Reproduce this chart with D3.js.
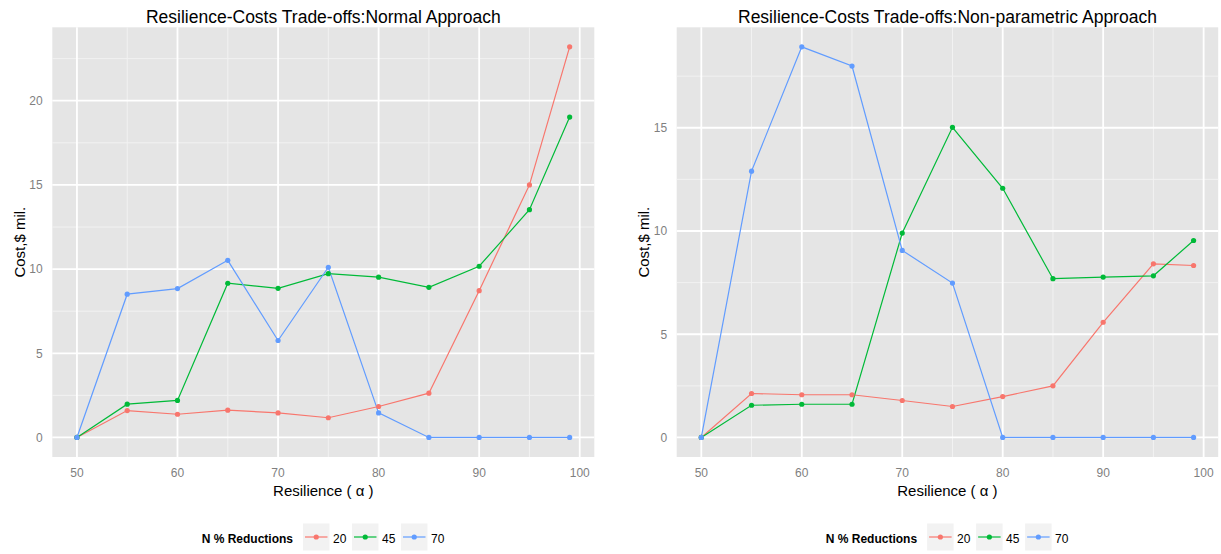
<!DOCTYPE html>
<html lang="en">
<head>
  <meta charset="UTF-8">
  <title>Resilience-Costs Trade-offs</title>
  <script src="https://d3js.org/d3.v7.min.js"></script>
  <style>
    body {
      margin: 0;
      padding: 0;
      background: white;
    }

    svg {
      font-family: "Liberation Sans", Arial, sans-serif;
    }

    .tick-label {
      font-size: 12px;
      fill: #7f7f7f;
    }

    .axis-title {
      font-size: 15px;
      fill: black;
    }

    .plot-title {
      font-size: 17.5px;
      fill: black;
    }
  </style>
</head>
<body>
  <script>
    // Resilience levels (x) and N reduction groups
    const resilience = [50, 55, 60, 65, 70, 75, 80, 85, 90, 95, 99];
    const reductions = ["20", "45", "70"];
    const colors = ["#F8766D", "#00BA38", "#619CFF"];

    // Normal approach costs ($ mil.)
    const normal20 = [0, 1.6, 1.38, 1.62, 1.46, 1.17, 1.84, 2.63, 8.72, 15.0, 23.2];
    const normal45 = [0, 1.98, 2.2, 9.16, 8.86, 9.73, 9.52, 8.92, 10.17, 13.53, 19.03];
    const normal70 = [0, 8.51, 8.84, 10.52, 5.76, 10.11, 1.46, 0, 0, 0, 0];

    // Non-parametric approach costs ($ mil.)
    const nonpar20 = [0, 2.13, 2.07, 2.07, 1.79, 1.5, 1.98, 2.5, 5.58, 8.41, 8.33];
    const nonpar45 = [0, 1.56, 1.61, 1.61, 9.9, 15.02, 12.07, 7.69, 7.77, 7.83, 9.54];
    const nonpar70 = [0, 12.9, 18.92, 17.99, 9.06, 7.48, 0, 0, 0, 0, 0];

    const xMajor = [50, 60, 70, 80, 90, 100];
    const xMinor = [55, 65, 75, 85, 95];

    const width = 1221;
    const height = 554;

    const svg = d3.select("body").append("svg")
      .attr("width", width)
      .attr("height", height);

    const panels = [
      {
        title: "Resilience-Costs Trade-offs:Normal Approach",
        series: [normal20, normal45, normal70],
        yMajor: [0, 5, 10, 15, 20],
        yMinor: [2.5, 7.5, 12.5, 17.5, 22.5],
        left: 52.3, right: 594.3, top: 27.3, bottom: 457,
        yTitleX: 25
      },
      {
        title: "Resilience-Costs Trade-offs:Non-parametric Approach",
        series: [nonpar20, nonpar45, nonpar70],
        yMajor: [0, 5, 10, 15],
        yMinor: [2.5, 7.5, 12.5, 17.5],
        left: 676.7, right: 1218.2, top: 27.3, bottom: 457,
        yTitleX: 649
      }
    ];

    // ggplot style 5% expansion on each side
    function expanded(lo, hi) {
      const pad = (hi - lo) * 0.05;
      return [lo - pad, hi + pad];
    }

    panels.forEach(p => {
      const allY = p.series.flat();
      const x = d3.scaleLinear()
        .domain(expanded(d3.min(resilience), d3.max(resilience)))
        .range([p.left, p.right]);
      const y = d3.scaleLinear()
        .domain(expanded(d3.min(allY), d3.max(allY)))
        .range([p.bottom, p.top]);

      const g = svg.append("g");

      // panel background
      g.append("rect")
        .attr("x", p.left)
        .attr("y", p.top)
        .attr("width", p.right - p.left)
        .attr("height", p.bottom - p.top)
        .attr("fill", "#e5e5e5");

      // minor grid
      g.selectAll(".vminor")
        .data(xMinor)
        .enter().append("line")
        .attr("x1", d => x(d)).attr("x2", d => x(d))
        .attr("y1", p.top).attr("y2", p.bottom)
        .attr("stroke", "#f2f2f2").attr("stroke-width", 1);
      g.selectAll(".hminor")
        .data(p.yMinor)
        .enter().append("line")
        .attr("x1", p.left).attr("x2", p.right)
        .attr("y1", d => y(d)).attr("y2", d => y(d))
        .attr("stroke", "#f2f2f2").attr("stroke-width", 1);

      // major grid
      g.selectAll(".vmajor")
        .data(xMajor)
        .enter().append("line")
        .attr("x1", d => x(d)).attr("x2", d => x(d))
        .attr("y1", p.top).attr("y2", p.bottom)
        .attr("stroke", "white").attr("stroke-width", 1.8);
      g.selectAll(".hmajor")
        .data(p.yMajor)
        .enter().append("line")
        .attr("x1", p.left).attr("x2", p.right)
        .attr("y1", d => y(d)).attr("y2", d => y(d))
        .attr("stroke", "white").attr("stroke-width", 1.8);

      // tick labels
      g.selectAll(".xlab")
        .data(xMajor)
        .enter().append("text")
        .attr("class", "tick-label")
        .attr("x", d => x(d))
        .attr("y", 477)
        .attr("text-anchor", "middle")
        .text(d => d);
      g.selectAll(".ylab")
        .data(p.yMajor)
        .enter().append("text")
        .attr("class", "tick-label")
        .attr("x", p.left - 9.6)
        .attr("y", d => y(d) + 4.3)
        .attr("text-anchor", "end")
        .text(d => d);

      // lines then points
      const line = d3.line()
        .x((d, i) => x(resilience[i]))
        .y(d => y(d));

      p.series.forEach((s, k) => {
        g.append("path")
          .datum(s)
          .attr("d", line)
          .attr("fill", "none")
          .attr("stroke", colors[k])
          .attr("stroke-width", 1.2);
      });
      p.series.forEach((s, k) => {
        g.selectAll(".pt" + k)
          .data(s)
          .enter().append("circle")
          .attr("cx", (d, i) => x(resilience[i]))
          .attr("cy", d => y(d))
          .attr("r", 2.6)
          .attr("fill", colors[k]);
      });

      const cx = (p.left + p.right) / 2;

      // titles
      g.append("text")
        .attr("class", "plot-title")
        .attr("x", cx)
        .attr("y", 22.5)
        .attr("text-anchor", "middle")
        .text(p.title);

      g.append("text")
        .attr("class", "axis-title")
        .attr("x", cx)
        .attr("y", 496)
        .attr("text-anchor", "middle")
        .text("Resilience ( \u03b1 )");

      g.append("text")
        .attr("class", "axis-title")
        .attr("transform", `translate(${p.yTitleX},${(p.top + p.bottom) / 2}) rotate(-90)`)
        .attr("text-anchor", "middle")
        .text("Cost,$ mil.");

      // legend
      const leg = g.append("g");
      const title = leg.append("text")
        .attr("y", 542.5)
        .attr("font-size", 12)
        .attr("font-weight", "bold")
        .text("N % Reductions");
      const titleW = title.node().getComputedTextLength();
      const keyW = 26.5, keyH = 27, labGap = 3.5, labW = 14, itemGap = 5;
      const totalW = titleW + 10 + reductions.length * (keyW + labGap + labW) + (reductions.length - 1) * itemGap;
      let lx = cx - totalW / 2;
      title.attr("x", lx);
      lx += titleW + 10;
      reductions.forEach((r, k) => {
        leg.append("rect")
          .attr("x", lx).attr("y", 523.5)
          .attr("width", keyW).attr("height", keyH)
          .attr("fill", "#f2f2f2");
        leg.append("line")
          .attr("x1", lx + 2).attr("x2", lx + keyW - 2)
          .attr("y1", 537).attr("y2", 537)
          .attr("stroke", colors[k]).attr("stroke-width", 1.2);
        leg.append("circle")
          .attr("cx", lx + keyW / 2).attr("cy", 537)
          .attr("r", 2.6).attr("fill", colors[k]);
        leg.append("text")
          .attr("x", lx + keyW + labGap)
          .attr("y", 542.5)
          .attr("font-size", 12)
          .text(r);
        lx += keyW + labGap + labW + itemGap;
      });
    });
  </script>
</body>
</html>
